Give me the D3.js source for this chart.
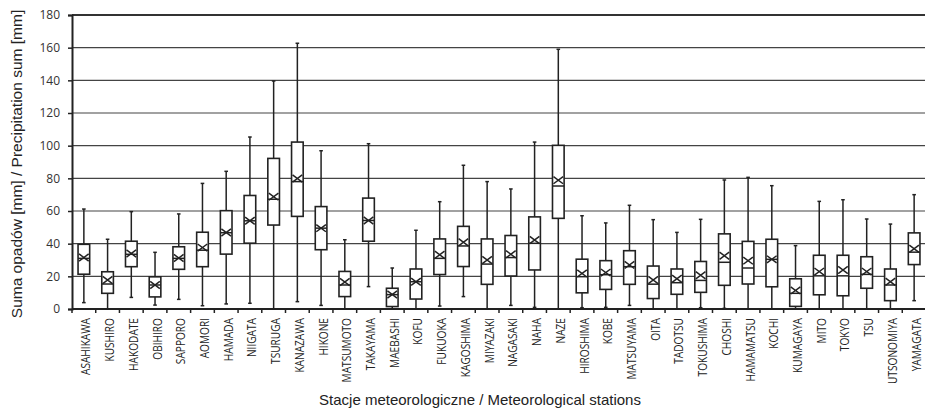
<!DOCTYPE html>
<html>
<head>
<meta charset="utf-8">
<script src="https://cdn.jsdelivr.net/npm/d3@7"></script>
<style>
  body { margin: 0; background: #fff; }
  svg { display: block; }
</style>
</head>
<body>
<svg id="chart" width="925" height="413"></svg>
<script>
// stations and box statistics, precipitation sums [mm]
var stations = ["ASAHIKAWA","KUSHIRO","HAKODATE","OBIHIRO","SAPPORO","AOMORI","HAMADA","NIIGATA",
  "TSURUGA","KANAZAWA","HIKONE","MATSUMOTO","TAKAYAMA","MAEBASHI","KOFU","FUKUOKA","KAGOSHIMA",
  "MIYAZAKI","NAGASAKI","NAHA","NAZE","HIROSHIMA","KOBE","MATSUYAMA","OITA","TADOTSU","TOKUSHIMA",
  "CHOSHI","HAMAMATSU","KOCHI","KUMAGAYA","MITO","TOKYO","TSU","UTSONOMIYA","YAMAGATA"];
var whiskerLow = [3.9,0,7.1,2.4,5.9,2,3.1,3.5,0,4.5,2.2,0,13.7,0,0,1.8,7.6,0,2.2,1,0,0.8,1,2.2,0,0,0.8,0.4,0,0,0,0,0,0,0,5.1];
var q1 = [21.3,9.6,25.9,7.4,24.3,25.9,33.6,40.3,51.4,56.7,36.3,7.6,41.5,1.5,6.1,21.1,26,15.1,20.2,23.9,55.5,9.9,12,15.1,6.4,9,10.2,14.5,15.3,13.6,1.6,8.7,8.1,12.7,5.1,27.2];
var median = [31,15.3,33.5,14.7,31,36,46.7,54,67.2,78,49.5,14.7,54.2,8.8,16.7,31,38.6,27.5,31.5,40.2,75.3,19.8,21,25.9,15.2,16.1,17.5,28.6,25.1,30.4,9.6,20.3,20.3,21.2,14.7,34.8];
var q3 = [39.6,22.8,41.5,19.7,38.1,47,60.2,69.5,92.2,102.2,62.7,23,67.9,12.7,24.5,42.9,50.6,42.9,45,56.4,100.2,30.5,29.6,35.7,26.3,24.5,29.1,46,41.4,42.7,18.5,32.9,32.9,32,24.5,46.6];
var whiskerHigh = [61.2,42.7,59.6,34.7,58.2,76.9,84.3,105.3,139.6,162.7,96.9,42.4,101.2,25.1,48.2,65.7,88,78,73.5,102.2,159,57.1,52.7,63.5,54.7,46.9,54.9,79,80.6,75.5,38.8,65.9,66.9,55.1,52,70];
var mean = [31.5,17.8,34,14.7,31.2,37.6,46.8,54,68.8,79.9,49.5,16.5,54.2,8.9,16.7,33.2,40.9,30,33.5,42.2,78.9,21.8,22.3,27,17.8,18.5,20.7,32.6,29.6,30.4,11.4,22.9,23.9,22.9,16.7,36.9];
var yTicks = [0,20,40,60,80,100,120,140,160,180];

var margin = {top: 15, right: -1, bottom: 104, left: 72};
var width = 925 - margin.left - margin.right;
var height = 413 - margin.top - margin.bottom;

var data = stations.map(function(s, i) {
  return {name: s, lo: whiskerLow[i], q1: q1[i], med: median[i], q3: q3[i], hi: whiskerHigh[i], mean: mean[i]};
});

var svg = d3.select("#chart");
var g = svg.append("g").attr("transform", "translate(" + margin.left + "," + margin.top + ")");

var x = d3.scaleBand().domain(stations).range([0, width]).padding(0);
var y = d3.scaleLinear().domain([0, 180]).range([height, 0]);
var boxW = x.bandwidth() * 0.49;
var ink = "#222";

// gridlines
g.selectAll(".grid").data(yTicks.filter(function(d){ return d > 0; }))
  .enter().append("line")
  .attr("x1", 0).attr("x2", width)
  .attr("y1", function(d){ return y(d); }).attr("y2", function(d){ return y(d); })
  .attr("stroke", function(d){ return d === 180 ? "#333" : "#444"; })
  .attr("stroke-width", function(d){ return d === 180 ? 2 : 1.1; });

// y axis
var yAxis = g.append("g")
  .call(d3.axisLeft(y).tickValues(yTicks).tickSize(4).tickPadding(8));
yAxis.select(".domain").attr("stroke", ink).attr("stroke-width", 2);
yAxis.selectAll(".tick line").attr("stroke", ink).attr("stroke-width", 1.5);
yAxis.selectAll("text").attr("font-family", "'Open Sans', sans-serif").attr("font-size", "12px").attr("fill", "#333");

// x axis: ticks at band boundaries
var xAxis = g.append("g").attr("transform", "translate(0," + height + ")");
xAxis.append("line").attr("x1", 0).attr("x2", width).attr("stroke", ink).attr("stroke-width", 2);
xAxis.selectAll(".xt").data(stations).enter().append("line")
  .attr("x1", function(d){ return x(d); }).attr("x2", function(d){ return x(d); })
  .attr("y1", 0).attr("y2", 4).attr("stroke", ink).attr("stroke-width", 1.5);
// narrow labels: squeeze along the text direction
xAxis.selectAll(".xl").data(stations).enter().append("text")
  .attr("transform", function(d){ return "translate(" + (x(d) + x.bandwidth()/2 + 6.5) + ",9) rotate(-90) scale(0.78,1)"; })
  .attr("text-anchor", "end")
  .attr("font-family", "'Open Sans', sans-serif")
  .attr("font-size", "13px").attr("fill", "#222")
  .text(function(d){ return d; });

// boxes
var boxes = g.selectAll(".box").data(data).enter().append("g")
  .attr("transform", function(d){ return "translate(" + (x(d.name) + x.bandwidth()/2) + ",0)"; });

boxes.append("line")
  .attr("x1", 0).attr("x2", 0)
  .attr("y1", function(d){ return y(d.hi); }).attr("y2", function(d){ return y(d.lo); })
  .attr("stroke", ink).attr("stroke-width", 1.5);
boxes.append("line")
  .attr("x1", -1.8).attr("x2", 1.8)
  .attr("y1", function(d){ return y(d.hi); }).attr("y2", function(d){ return y(d.hi); })
  .attr("stroke", ink).attr("stroke-width", 1.5);
boxes.append("line")
  .attr("x1", -1.8).attr("x2", 1.8)
  .attr("y1", function(d){ return y(d.lo); }).attr("y2", function(d){ return y(d.lo); })
  .attr("stroke", ink).attr("stroke-width", 1.5);
boxes.append("rect")
  .attr("x", -boxW/2).attr("width", boxW)
  .attr("y", function(d){ return y(d.q3); })
  .attr("height", function(d){ return y(d.q1) - y(d.q3); })
  .attr("fill", "#fff").attr("stroke", ink).attr("stroke-width", 1.6);
boxes.append("line")
  .attr("x1", -boxW/2).attr("x2", boxW/2)
  .attr("y1", function(d){ return y(d.med); }).attr("y2", function(d){ return y(d.med); })
  .attr("stroke", ink).attr("stroke-width", 1.5);
// mean marker (X)
var mx = boxW/2 - 1, my = 3.6;
boxes.append("path")
  .attr("d", function(d){
    var c = y(d.mean);
    return "M" + (-mx) + "," + (c - my) + "L" + mx + "," + (c + my) +
           "M" + (-mx) + "," + (c + my) + "L" + mx + "," + (c - my);
  })
  .attr("fill", "none").attr("stroke", ink).attr("stroke-width", 1.5);

// axis titles
svg.append("text")
  .attr("transform", "translate(22," + (margin.top + height/2 + 2) + ") rotate(-90)")
  .attr("text-anchor", "middle")
  .attr("font-family", "'Liberation Sans', Arial, sans-serif")
  .attr("font-size", "15.5px").attr("fill", "#222")
  .text("Suma opadów [mm] / Precipitation sum [mm]");

svg.append("text")
  .attr("x", 480).attr("y", 405)
  .attr("text-anchor", "middle")
  .attr("font-family", "'Liberation Sans', Arial, sans-serif")
  .attr("font-size", "15px").attr("fill", "#222")
  .text("Stacje meteorologiczne / Meteorological stations");
</script>
</body>
</html>
